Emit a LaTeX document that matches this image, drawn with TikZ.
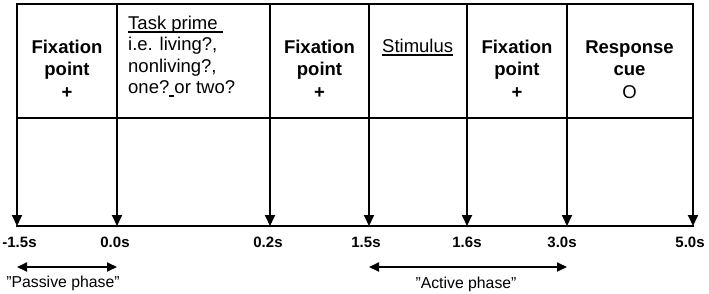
\documentclass[tikz,border=0pt]{standalone}
\usepackage{fontspec}
\setmainfont{Liberation Sans}
\usetikzlibrary{arrows.meta}
\newcommand\myul[3]{\setbox0\hbox{#3}\rlap{\rule[-#1]{\wd0}{#2}}\box0}
\begin{document}
\begin{tikzpicture}[x=1pt,y=-1pt,
  frame/.style={line width=1.6pt, line cap=rect},
  tickarrow/.style={line width=1.9pt,-{Triangle[length=11pt,width=10pt]}},
  phasearrow/.style={line width=1.9pt,{Triangle[length=10pt,width=9pt]}-{Triangle[length=10pt,width=9pt]}},
  head/.style={font=\fontsize{18.5}{22.5}\selectfont, inner sep=0pt, anchor=north, align=center},
  prime/.style={font=\fontsize{18.5}{21.5}\selectfont, inner sep=0pt, anchor=north west, align=left},
  timelabel/.style={font=\bfseries\fontsize{15}{18}\selectfont, inner sep=0pt, anchor=base},
  phaselabel/.style={font=\fontsize{15.8}{18}\selectfont, inner sep=0pt, anchor=base}
]
\useasboundingbox (0,0) rectangle (709,294);
% column top points, box bottom points, axis points
\foreach \i/\x in {1/17,2/117,3/270,4/369,5/467,6/567,7/693}{
  \coordinate (t\i) at (\x,4);
  \coordinate (b\i) at (\x,118);
  \coordinate (a\i) at (\x,226);
}
\draw[frame] (t1) -- (t7);
\draw[frame] (b1) -- (b7);
\draw[frame] (a1) -- (a7);
\foreach \i in {1,...,7}{ \draw[tickarrow] (t\i) -- (a\i); }

% texts in the boxes
\node[head] (fix1) at (67,37.25) {\strut\bfseries Fixation\\\strut\bfseries point\\\strut\bfseries +};
\node[prime] (task) at (128,13.95) {\strut\myul{3.9pt}{2.4pt}{Task prime }\\\strut i.e. living?,\\\strut nonliving?,\\\strut one?\myul{3.6pt}{2.4pt}{\ }or two?};
\node[head] (fix2) at (319.5,37.25) {\strut\bfseries Fixation\\\strut\bfseries point\\\strut\bfseries +};
\node[prime] (stim) at (382,37.25) {\strut\myul{3.2pt}{1.3pt}{Stimulus}};
\node[head] (fix3) at (517,37.25) {\strut\bfseries Fixation\\\strut\bfseries point\\\strut\bfseries +};
\node[head] (resp) at (629.5,37.25) {\strut\bfseries Response\\\strut\bfseries cue\\\strut O};

% time labels
\node[timelabel] (l1) at (19.5,247) {-1.5s};
\node[timelabel] (l2) at (115,247) {0.0s};
\node[timelabel] (l3) at (268,247) {0.2s};
\node[timelabel] (l4) at (366,247) {1.5s};
\node[timelabel] (l5) at (467,247) {1.6s};
\node[timelabel] (l6) at (562,247) {3.0s};
\node[timelabel] (l7) at (690,247) {5.0s};

% phases
\coordinate (p1) at (17,267);
\coordinate (p2) at (117,267);
\coordinate (q1) at (369,267);
\coordinate (q2) at (567,267);
\draw[phasearrow] (p1) -- (p2);
\draw[phasearrow] (q1) -- (q2);
\node[phaselabel] (passive) at (63,287) {”Passive phase”};
\node[phaselabel] (active) at (466,288) {”Active phase”};
\end{tikzpicture}
\end{document}
